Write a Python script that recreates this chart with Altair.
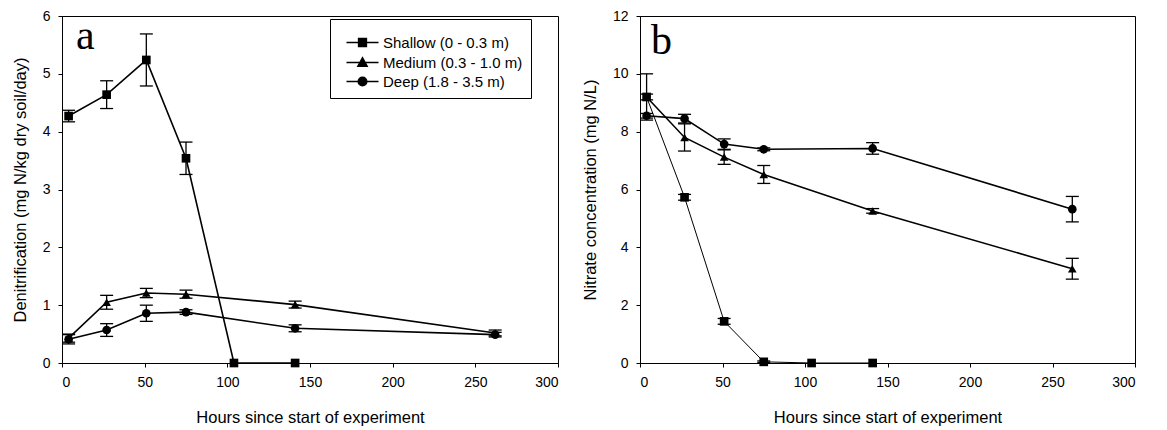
import altair as alt
import pandas as pd

# ---------------- data ----------------
series_names = ["Shallow (0 - 0.3 m)", "Medium (0.3 - 1.0 m)", "Deep (1.8 - 3.5 m)"]

hours_shallow = [4, 27, 51, 75, 104, 141]
hours_other = [4, 27, 51, 75, 141, 262]

# panel a: denitrification (mg N/kg dry soil/day)
shallow_a = [4.27, 4.64, 5.24, 3.54, 0.0, 0.0]
shallow_a_err = [0.10, 0.24, 0.45, 0.28, 0.0, 0.0]
medium_a = [0.43, 1.05, 1.21, 1.19, 1.01, 0.52]
medium_a_err = [0.07, 0.12, 0.08, 0.07, 0.06, 0.05]
deep_a = [0.41, 0.57, 0.86, 0.88, 0.60, 0.49]
deep_a_err = [0.08, 0.11, 0.14, 0.04, 0.06, 0.04]

# panel b: nitrate concentration (mg N/L)
shallow_b = [9.20, 5.73, 1.44, 0.04, 0.0, 0.0]
shallow_b_err = [0.80, 0.10, 0.10, 0.03, 0.0, 0.0]
medium_b = [9.20, 7.80, 7.12, 6.52, 5.26, 3.26]
medium_b_err = [0.10, 0.47, 0.25, 0.31, 0.08, 0.36]
deep_b = [8.55, 8.45, 7.57, 7.39, 7.42, 5.32]
deep_b_err = [0.08, 0.15, 0.18, 0.05, 0.20, 0.44]

x_ticks = [0, 50, 100, 150, 200, 250, 300]
y_ticks_a = [0, 1, 2, 3, 4, 5, 6]
y_ticks_b = [0, 2, 4, 6, 8, 10, 12]


def build(hours_list, vals_list, errs_list):
    rows = []
    for name, hrs, vals, errs in zip(series_names, hours_list, vals_list, errs_list):
        for h, v, e in zip(hrs, vals, errs):
            rows.append({"series": name, "hours": h, "value": v, "err": e})
    return pd.DataFrame(rows)


df_a = build([hours_shallow, hours_other, hours_other],
             [shallow_a, medium_a, deep_a],
             [shallow_a_err, medium_a_err, deep_a_err])
df_b = build([hours_shallow, hours_other, hours_other],
             [shallow_b, medium_b, deep_b],
             [shallow_b_err, medium_b_err, deep_b_err])

# legend symbols: line with marker through it
legend_paths = [
    "M-4,0L4,0M-1,-1L1,-1L1,1L-1,1Z",
    "M-4,0L4,0M0,-1.25L1.2,0.95L-1.2,0.95Z",
    "M-4,0L4,0M-1.1,0A1.1,1.1 0 1,0 1.1,0A1.1,1.1 0 1,0 -1.1,0Z",
]

FONT = "Liberation Sans"


def panel(df, ytitle, ymax, yticks, letter, letter_x, letter_y, width, thin_shallow, legend):
    xs = alt.Scale(domain=[0, 300], nice=False)
    ys = alt.Scale(domain=[0, ymax], nice=False)
    xaxis = alt.Axis(values=x_ticks, title="Hours since start of experiment")
    yaxis = alt.Axis(values=yticks, title=ytitle)

    def X():
        return alt.X("hours:Q", scale=xs, axis=xaxis)

    def Y(field):
        return alt.Y(f"{field}:Q", scale=ys, axis=yaxis, title=ytitle)

    base = alt.Chart(df)
    eb = base.transform_filter("datum.err > 0").transform_calculate(
        lo="datum.value - datum.err", hi="datum.value + datum.err")

    rule = eb.mark_rule(color="black", strokeWidth=1.3).encode(x=X(), y=Y("lo"), y2="hi:Q")
    cap_lo = eb.mark_tick(orient="horizontal", size=13, thickness=1.3, color="black",
                          opacity=1).encode(x=X(), y=Y("lo"))
    cap_hi = eb.mark_tick(orient="horizontal", size=13, thickness=1.3, color="black",
                          opacity=1).encode(x=X(), y=Y("hi"))

    layers = [rule, cap_lo, cap_hi]
    if thin_shallow:
        layers.append(base.transform_filter(alt.datum.series == series_names[0])
                      .mark_line(color="black", strokeWidth=1)
                      .encode(x=X(), y=Y("value"), detail="series:N", order="hours:Q"))
        layers.append(base.transform_filter(alt.datum.series != series_names[0])
                      .mark_line(color="black", strokeWidth=1.6)
                      .encode(x=X(), y=Y("value"), detail="series:N", order="hours:Q"))
    else:
        layers.append(base.mark_line(color="black", strokeWidth=1.6)
                      .encode(x=X(), y=Y("value"), detail="series:N", order="hours:Q"))

    points = base.mark_point(filled=True, color="black", size=75, opacity=1).encode(
        x=X(), y=Y("value"),
        shape=alt.Shape("series:N",
                        scale=alt.Scale(domain=series_names,
                                        range=["square", "triangle-up", "circle"]),
                        legend=None))
    layers.append(points)

    if legend:
        leg = base.transform_filter("false").mark_point(
            filled=False, fill="black", stroke="black", strokeWidth=1.3, opacity=1).encode(
            x=X(), y=Y("value"),
            shape=alt.Shape("series:N",
                            scale=alt.Scale(domain=series_names, range=legend_paths),
                            legend=alt.Legend(
                                title=" ", titleFontSize=8, titlePadding=0,
                                orient="none", legendX=268, legendY=3,
                                symbolSize=64, symbolStrokeWidth=1.3,
                                symbolOpacity=1, symbolOffset=17, labelOffset=13,
                                labelFontSize=15, labelFont=FONT,
                                labelColor="black", strokeColor="black",
                                fillColor="white", padding=8, rowPadding=3)))
        layers.append(leg)

    text = alt.Chart(alt.Data(values=[{}])).mark_text(
        text=letter, font="Liberation Serif", fontSize=42, align="left",
        baseline="alphabetic", color="black").encode(x=alt.value(letter_x), y=alt.value(letter_y))
    layers.append(text)

    ch = alt.layer(*layers).properties(width=width, height=347)
    if legend:
        ch = ch.resolve_scale(shape="independent")
    return ch


pa = panel(df_a, "Denitrification (mg N/kg dry soil/day)", 6, y_ticks_a, "a", 14, 33, 496, False, True)
pb = panel(df_b, "Nitrate concentration (mg N/L)", 12, y_ticks_b, "b", 11, 38, 495, True, False)

chart = alt.hconcat(pa, pb, spacing=22).properties(
    padding={"left": 3, "top": 0, "right": 5, "bottom": 2}
).configure_view(stroke="black", strokeWidth=1).configure_axis(
    domainColor="black", tickColor="black", labelColor="black", titleColor="black",
    labelFont=FONT, titleFont=FONT, labelFontSize=14, titleFontSize=16.5,
    titleFontWeight="normal", grid=False, tickSize=4, labelPadding=8,
).configure_axisY(titlePadding=14).configure_axisX(titlePadding=20)

chart.save("out.html", embed_options={"renderer": "svg", "actions": False})
